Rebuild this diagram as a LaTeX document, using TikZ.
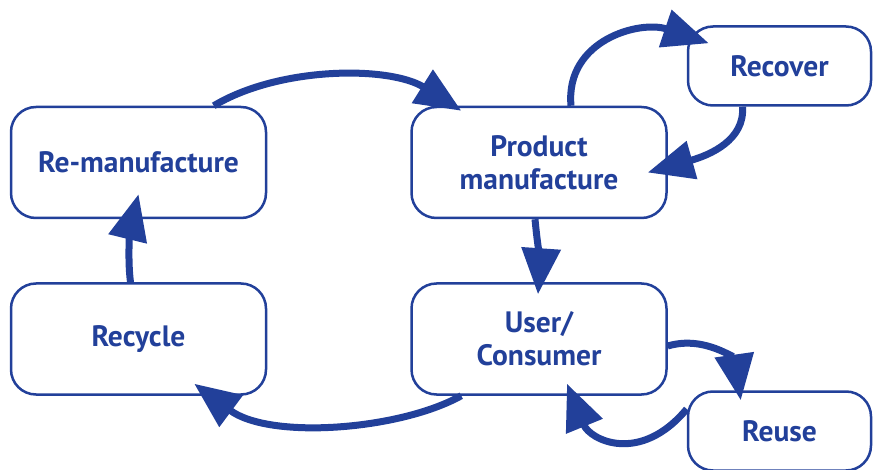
\documentclass[tikz,border=0pt]{standalone}
\usepackage{fontspec}
\setmainfont{PT Sans}
\usetikzlibrary{arrows.meta}
\definecolor{cycleblue}{HTML}{22409A}
\begin{document}
\begin{tikzpicture}[x=1pt,y=-1pt,
  stage/.style={draw=cycleblue, line width=2.5pt, fill=white, rounded corners=25pt,
    text=cycleblue, font=\bfseries\fontsize{29.5}{33}\selectfont, align=center,
    minimum width=255pt, minimum height=111pt, inner sep=0pt},
  small/.style={stage, minimum width=183pt, minimum height=79pt},
  flow/.style={draw=cycleblue, line width=7pt, -{Triangle[length=46pt,width=38pt]}}]
  \useasboundingbox (0,0) rectangle (873,470);
  % stages of the product life cycle
  \node[stage] (remf) at (138.5,162.5) {Re-manufacture};
  \node[stage] (recy) at (138.5,339) {Recycle};
  \node[stage] (prod) at (539,162.5) {Product\\manufacture};
  \node[stage] (user) at (539,339) {User/\\Consumer};
  \node[small] (recv) at (779.5,66) {Recover};
  \node[small] (reus) at (779.5,431) {Reuse};
  % material flows between stages
  \draw[flow] ([xshift=204pt]remf.north west) .. controls (280,66) and (390,66) .. ([shift={(51,5)}]prod.north west);
  \draw[flow] ([xshift=-8pt]recy.north) .. controls (127,255) and (131,225) .. ([shift={(0,-25)}]remf.south);
  \draw[flow] ([xshift=-4pt]prod.south) .. controls (537,240) and (540,265) .. ([shift={(-1,12)}]user.north);
  \draw[flow] ([xshift=51pt]user.south west) .. controls (400,430) and (270,440) .. ([shift={(-73,-12)}]recy.south east);
  \draw[flow] ([xshift=32pt]prod.north) .. controls (565,40) and (640,20) .. ([shift={(22,18)}]recv.north west);
  \draw[flow] ([xshift=-37pt]recv.south) .. controls (745,140) and (710,155) .. ([shift={(-20,10)}]prod.east);
  \draw[flow] ([yshift=-7pt]user.east) .. controls (705,335) and (735,360) .. ([shift={(54,10)}]reus.north west);
  \draw[flow] ([yshift=22pt]reus.west) .. controls (640,465) and (590,440) .. ([shift={(28,-12)}]user.south);
\end{tikzpicture}
\end{document}
